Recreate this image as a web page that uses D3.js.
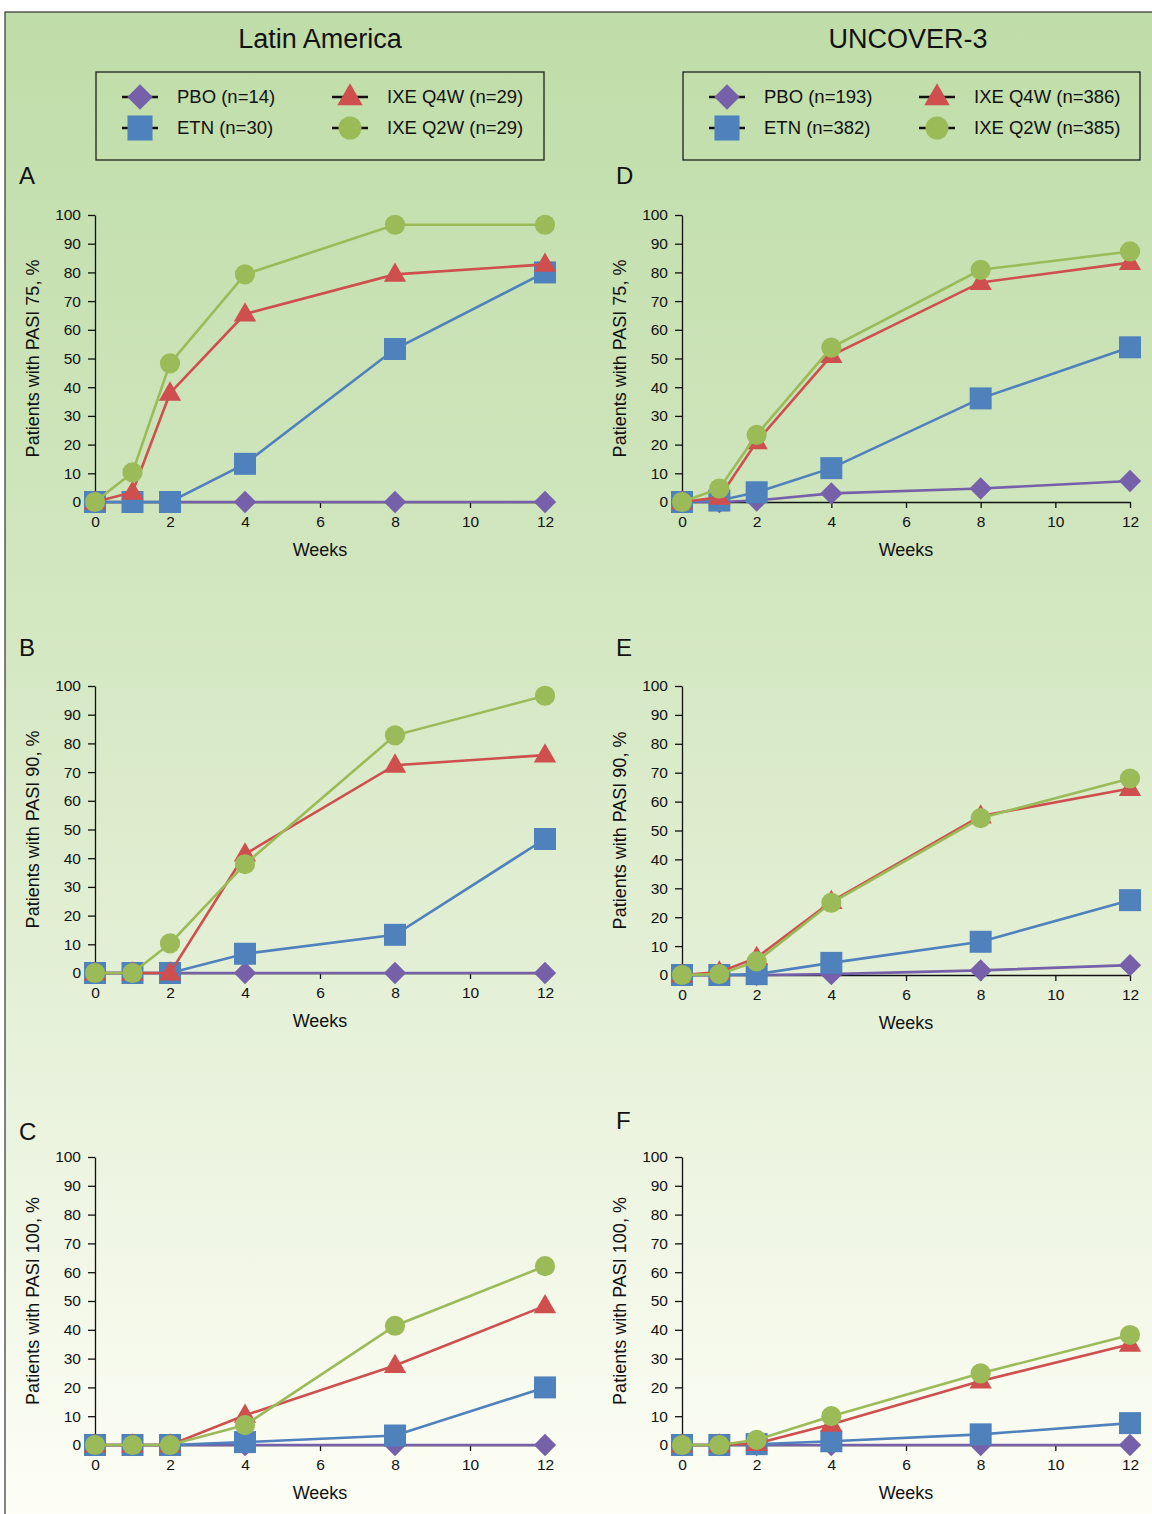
<!DOCTYPE html>
<html>
<head>
<meta charset="utf-8">
<script src="https://cdn.jsdelivr.net/npm/d3@7"></script>
<style>
  body { margin: 0; background: #fff; }
  text { font-family: "Liberation Sans", Arial, sans-serif; fill: #111; }
</style>
</head>
<body>
<div id="chart"></div>
<script>
// x values and tick labels
var weeks = [0, 1, 2, 4, 8, 12];
var weekTicks = [0, 2, 4, 6, 8, 10, 12];
var pctTicks = [0, 10, 20, 30, 40, 50, 60, 70, 80, 90, 100];

var seriesNames = ["PBO", "ETN", "IXE Q4W", "IXE Q2W"];
var latinN = [14, 30, 29, 29];
var uncoverN = [193, 382, 386, 385];

// order of rows in each panel: PBO, ETN, IXE Q4W, IXE Q2W
var latin75 = [
  [0, 0, 0, 0, 0, 0],
  [0, 0, 0, 13.3, 53.3, 80],
  [0, 3.4, 37.9, 65.5, 79.3, 82.8],
  [0, 10.3, 48.3, 79.3, 96.6, 96.6]
];
var latin90 = [
  [0, 0, 0, 0, 0, 0],
  [0, 0, 0, 6.7, 13.3, 46.7],
  [0, 0, 0, 41.4, 72.4, 75.9],
  [0, 0, 10.3, 37.9, 82.8, 96.6]
];
var latin100 = [
  [0, 0, 0, 0, 0, 0],
  [0, 0, 0, 1, 3.3, 20],
  [0, 0, 0, 10.3, 27.6, 48.3],
  [0, 0, 0, 6.9, 41.4, 62.1]
];
var uncover75 = [
  [0, 0, 0.5, 3, 4.7, 7.3],
  [0, 0.5, 3.4, 11.8, 36.1, 53.9],
  [0, 1.6, 21, 51, 76.5, 83.4],
  [0, 4.7, 23.4, 53.8, 80.9, 87.3]
];
var uncover90 = [
  [0, 0, 0, 0.3, 1.6, 3.4],
  [0, 0, 0.3, 4.2, 11.5, 25.9],
  [0, 1, 6, 25.4, 55, 64.5],
  [0, 0.3, 4.7, 25, 54.3, 68]
];
var uncover100 = [
  [0, 0, 0, 0, 0, 0],
  [0, 0, 0.3, 1.3, 3.7, 7.6],
  [0, 0, 0.5, 7.2, 22.2, 35],
  [0, 0, 1.8, 10, 24.9, 38.2]
];

var colors = ["#7560a9", "#4f81bd", "#cf4f4f", "#9bbb59"];
var shapes = ["diamond", "square", "triangle", "circle"];

var W = 1152, H = 1514;

var svg = d3.select("#chart").append("svg")
  .attr("width", W)
  .attr("height", H);

var grad = svg.append("defs").append("linearGradient")
  .attr("id", "bg")
  .attr("x1", 0).attr("y1", 0).attr("x2", 0).attr("y2", 1);
grad.append("stop").attr("offset", "0%").attr("stop-color", "#bfdda8");
grad.append("stop").attr("offset", "40%").attr("stop-color", "#d3e7c1");
grad.append("stop").attr("offset", "75%").attr("stop-color", "#ecf4e0");
grad.append("stop").attr("offset", "100%").attr("stop-color", "#fefef6");

svg.append("rect")
  .attr("x", 5).attr("y", 12)
  .attr("width", W + 10).attr("height", H)
  .attr("fill", "url(#bg)")
  .attr("stroke", "#333")
  .attr("stroke-width", 1.2);

// marker drawing, k scales the symbol
function marker(g, shape, color, x, y, k) {
  k = k || 1;
  var p;
  if (shape == "diamond") {
    p = d3.symbol().type(d3.symbolSquare).size(250 * k)();
    g.append("path").attr("d", p)
      .attr("transform", "translate(" + x + "," + y + ") rotate(45)")
      .attr("fill", color);
    return;
  }
  if (shape == "square") p = d3.symbol().type(d3.symbolSquare).size(484 * k)();
  if (shape == "triangle") p = d3.symbol().type(d3.symbolTriangle).size(215 * k)();
  if (shape == "circle") p = d3.symbol().type(d3.symbolCircle).size(320 * k)();
  g.append("path").attr("d", p)
    .attr("transform", "translate(" + x + "," + (shape == "triangle" ? y + 1 : y) + ")")
    .attr("fill", color);
}

function title(text, cx) {
  svg.append("text")
    .attr("x", cx).attr("y", 48)
    .attr("text-anchor", "middle")
    .style("font-size", "27px")
    .text(text);
}

function legend(x, w, ns) {
  var g = svg.append("g");
  g.append("rect")
    .attr("x", x).attr("y", 72)
    .attr("width", w).attr("height", 88)
    .attr("fill", "none")
    .attr("stroke", "#111")
    .attr("stroke-width", 1.2);
  var cols = [x + 44, x + 254];
  var rows = [97, 128];
  var order = [[0, 0], [0, 1], [1, 0], [1, 1]]; // [col,row] for PBO, ETN, Q4W, Q2W
  seriesNames.forEach(function(name, i) {
    var cx = cols[order[i][0]], cy = rows[order[i][1]];
    g.append("line")
      .attr("x1", cx - 18).attr("x2", cx + 18)
      .attr("y1", cy).attr("y2", cy)
      .attr("stroke", "#111").attr("stroke-width", 2.5);
    marker(g, shapes[i], colors[i], cx, cy, 1.3);
    g.append("text")
      .attr("x", cx + 37).attr("y", cy + 6)
      .style("font-size", "18.5px")
      .text(name + " (n=" + ns[i] + ")");
  });
}

function panel(data, letter, left, right, top, bottom, ylab, letterX, letterY) {
  var x = d3.scaleLinear().domain([0, 12]).range([left, right]);
  var y = d3.scaleLinear().domain([0, 100]).range([bottom, top]);
  var g = svg.append("g");

  g.append("text")
    .attr("x", letterX).attr("y", letterY)
    .style("font-size", "24px")
    .text(letter);

  var ya = g.append("g")
    .attr("transform", "translate(" + left + ",0)")
    .call(d3.axisLeft(y).tickValues(pctTicks).tickSize(7).tickSizeOuter(0).tickPadding(7));
  var xa = g.append("g")
    .attr("transform", "translate(0," + bottom + ")")
    .call(d3.axisBottom(x).tickValues(weekTicks).tickSize(6).tickSizeOuter(0).tickPadding(8));
  [ya, xa].forEach(function(a) {
    a.attr("font-size", null).attr("font-family", null);
    a.selectAll("path, line").attr("stroke", "#111").attr("stroke-width", 1.3);
    a.selectAll("text").style("font-size", "15.5px").attr("fill", "#111");
  });

  g.append("text")
    .attr("transform", "translate(" + (left - 56) + "," + ((top + bottom) / 2) + ") rotate(-90)")
    .attr("text-anchor", "middle")
    .style("font-size", "18px")
    .text(ylab);

  g.append("text")
    .attr("x", (left + right) / 2).attr("y", bottom + 54)
    .attr("text-anchor", "middle")
    .style("font-size", "18px")
    .text("Weeks");

  var line = d3.line()
    .x(function(d, i) { return x(weeks[i]); })
    .y(function(d) { return y(d); });

  data.forEach(function(vals, s) {
    g.append("path")
      .attr("d", line(vals))
      .attr("fill", "none")
      .attr("stroke", colors[s])
      .attr("stroke-width", 2.6);
    vals.forEach(function(v, i) {
      marker(g, shapes[s], colors[s], x(weeks[i]), y(v));
    });
  });
}

title("Latin America", 320);
title("UNCOVER-3", 908);
legend(96, 448, latinN);
legend(683, 457, uncoverN);

panel(latin75, "A", 95, 545, 215, 502, "Patients with PASI 75, %", 19, 184);
panel(latin90, "B", 95, 545, 686, 973, "Patients with PASI 90, %", 19, 656);
panel(latin100, "C", 95, 545, 1157, 1445, "Patients with PASI 100, %", 19, 1140);
panel(uncover75, "D", 682, 1130, 215, 502, "Patients with PASI 75, %", 616, 184);
panel(uncover90, "E", 682, 1130, 686, 975, "Patients with PASI 90, %", 616, 656);
panel(uncover100, "F", 682, 1130, 1157, 1445, "Patients with PASI 100, %", 616, 1129);
</script>
</body>
</html>
